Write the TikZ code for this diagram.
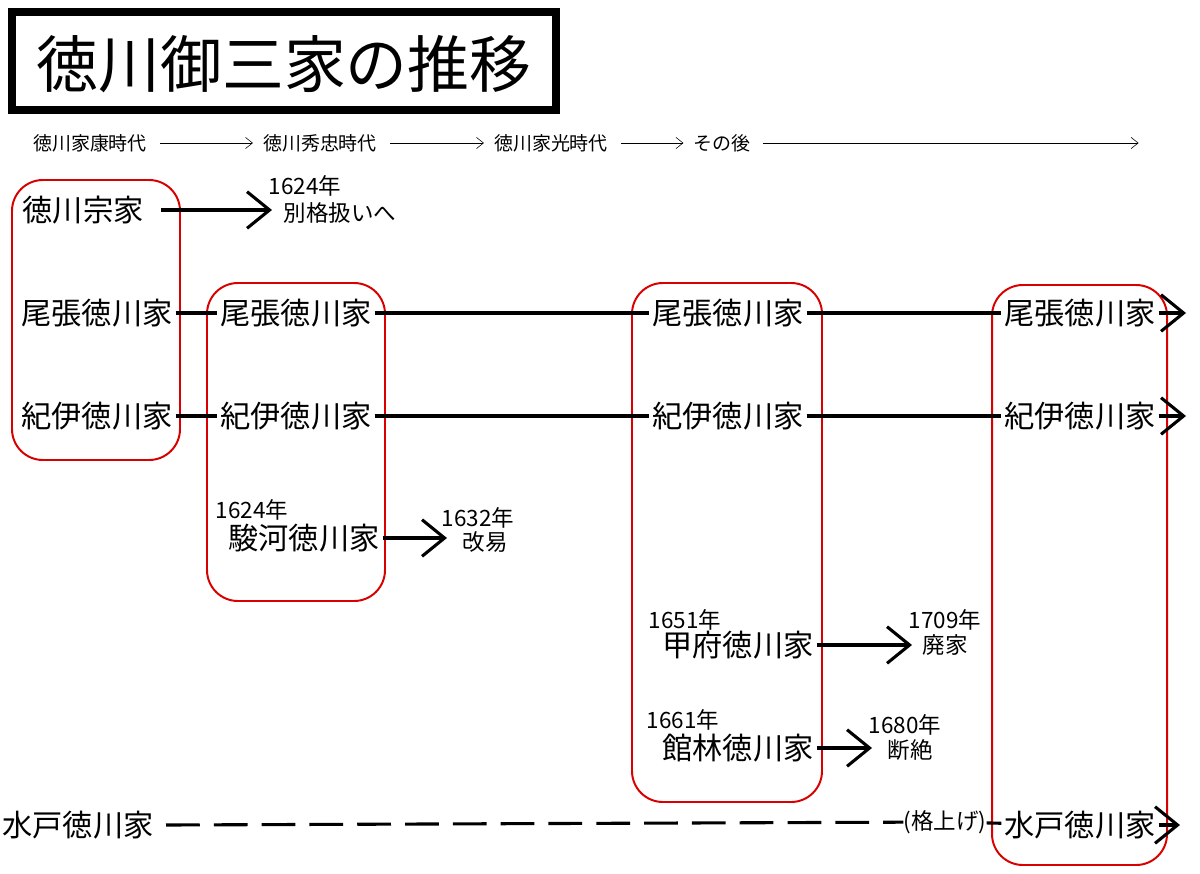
\documentclass[tikz,border=0pt]{standalone}
\usepackage{fontspec}
\setmainfont{Noto Sans CJK JP}
\usetikzlibrary{arrows.meta,positioning}
\tikzset{
  house/.style={inner sep=2pt, font=\fontsize{21.5}{24}\selectfont},
  year/.style={inner sep=0pt, font=\fontsize{16}{18}\selectfont},
  era/.style={inner sep=1pt, font=\fontsize{13.5}{15}\selectfont},
  eraarrow/.style={shorten <=8pt, shorten >=6pt, -{Straight Barb[length=5pt,width=8pt]}},
  line/.style={line width=2.2pt},
  fate/.style={line width=2.2pt, -{Straight Barb[length=16pt,width=26pt,line width=2.2pt]}},
  group/.style={draw=red!85!black, line width=1.4pt, rounded corners=22pt},
}
\begin{document}
\begin{tikzpicture}[x=0.025cm, y=-0.025cm]
			%%%%% FRAME %%%%%
			\useasboundingbox (0,0) rectangle (1200,873);
			\draw[line width=5.5pt] (12,12) rectangle (556,110);
			\node[inner sep=0pt, font=\fontsize{44}{48}\selectfont] (title) at (284,64) {徳川御三家の推移};
			
			%%%%% ERAS %%%%%
			\node[era] (e1) at (90,143) {徳川家康時代};
			\node[era] (e2) at (320,143) {徳川秀忠時代};
			\node[era] (e3) at (551,143) {徳川家光時代};
			\node[era] (e4) at (722,143) {その後};
			\coordinate (eend) at (1147,143);
			\draw[eraarrow] (e1) -- (e2);
			\draw[eraarrow] (e2) -- (e3);
			\draw[eraarrow] (e3) -- (e4);
			\draw[eraarrow] (e4) -- (eend);
			
			%%%%% GROUPS %%%%%
			\draw[group] (12,180) rectangle (180,460);
			\draw[group] (207,283) rectangle (385,601);
			\draw[group] (632,283) rectangle (822,802);
			\draw[group] (992,285) rectangle (1167,865);
			
			%%%%% HOUSES %%%%%
			\node[house] (sou) at (83,210) {徳川宗家};
			\node[house] (owa1) at (97,313) {尾張徳川家};
			\node[house] (owa2) at (296,313) {尾張徳川家};
			\node[house] (owa3) at (728,313) {尾張徳川家};
			\node[house] (owa4) at (1080,313) {尾張徳川家};
			\node[house] (kii1) at (97,416) {紀伊徳川家};
			\node[house] (kii2) at (296,416) {紀伊徳川家};
			\node[house] (kii3) at (728,416) {紀伊徳川家};
			\node[house] (kii4) at (1080,416) {紀伊徳川家};
			\node[house] (sur) at (304,538) {駿河徳川家};
			\node[house] (kof) at (738,645) {甲府徳川家};
			\node[house] (tat) at (738,748) {館林徳川家};
			\node[house] (mit1) at (78,825) {水戸徳川家};
			\node[house] (mit4) at (1080,825) {水戸徳川家};
			\node[year] (kaku) at (945,822) {(格上げ)};
			
			%%%%% YEARS %%%%%
			\node[year] at (305,186) {1624年};
			\node[year] at (340,213) {別格扱いへ};
			\node[year] at (252,510) {1624年};
			\node[year] at (478,518) {1632年};
			\node[year] at (485,542) {改易};
			\node[year] at (685,620) {1651年};
			\node[year] at (945,620) {1709年};
			\node[year] at (945,645) {廃家};
			\node[year] at (683,720) {1661年};
			\node[year] at (905,725) {1680年};
			\node[year] at (910,750) {断絶};
			
			%%%%% ENDS %%%%%
			\coordinate (souend) at (272,210);
			\coordinate (owaend) at (1186,313);
			\coordinate (kiiend) at (1186,416);
			\coordinate (surend) at (447,538);
			\coordinate (kofend) at (912,645);
			\coordinate (tatend) at (872,748);
			\coordinate (mitend) at (1180,825);
			
			%%%%% LINES %%%%%
			\draw[fate] (sou) ++(78,0) -- (souend);
			\draw[line] (owa1) -- (owa2);
			\draw[line] (owa2) -- (owa3);
			\draw[line] (owa3) -- (owa4);
			\draw[fate] (owa4) -- (owaend);
			\draw[line] (kii1) -- (kii2);
			\draw[line] (kii2) -- (kii3);
			\draw[line] (kii3) -- (kii4);
			\draw[fate] (kii4) -- (kiiend);
			\draw[fate] (sur) -- (surend);
			\draw[fate] (kof) -- (kofend);
			\draw[fate] (tat) -- (tatend);
			\draw[line, dash pattern=on 24pt off 10pt] (mit1) ++(88,0) -- (kaku);
			\draw[line] (kaku) -- (mit4);
			\draw[fate] (mit4) -- (mitend);
			
		\end{tikzpicture}
\end{document}
